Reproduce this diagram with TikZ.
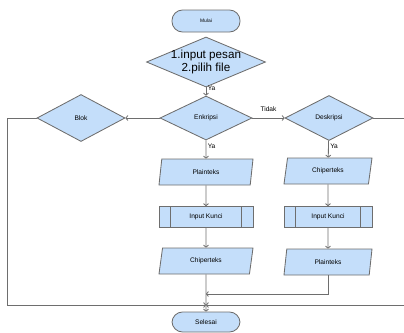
\documentclass[tikz,border=0pt]{standalone}
\usepackage{fontspec}
\setmainfont{Liberation Sans}
\usetikzlibrary{calc,shapes.geometric,arrows.meta}

\definecolor{boxblue}{RGB}{196,222,250}
\definecolor{linegray}{RGB}{110,110,110}

\tikzset{
  shp/.style={draw=linegray, fill=boxblue, line width=0.6pt, inner sep=0pt, font=\fontsize{4.7}{5}\selectfont},
  term/.style={shp, rectangle, rounded corners=7.5pt, minimum width=1.7cm, minimum height=0.55cm},
  decision/.style={shp, diamond, aspect=2},
  io/.style={shp, trapezium, trapezium left angle=60, trapezium right angle=120, trapezium stretches body, minimum height=0.65cm},
  proc/.style={shp, rectangle, minimum height=0.525cm},
  flow/.style={draw=linegray, line width=0.6pt, -{To[length=2pt,width=4pt]}},
  lbl/.style={font=\fontsize{4.7}{5}\selectfont, inner sep=1pt}
}

\begin{document}
\begin{tikzpicture}[x=0.025cm,y=-0.025cm]
\useasboundingbox (0,0) rectangle (404,332);

\node (mulai) at (206,21) [term, font=\fontsize{3.5}{4}\selectfont] {Mulai};
\node (input) at (206,62) [decision, minimum width=2.975cm, minimum height=1.25cm,
    label={[font=\fontsize{8.3}{8.6}\selectfont, align=center]center:1.input pesan\\2.pilih file}] {};
\node (enk) at (206,118) [decision, minimum width=2.3cm, minimum height=1.1cm] {Enkripsi};
\node (blok) at (81,118) [decision, minimum width=2.2cm, minimum height=1.175cm] {Blok};
\node (desk) at (329,118) [decision, minimum width=2.2cm, minimum height=1.125cm] {Deskripsi};

\node (plain1) at (206,172) [io, minimum width=2.35cm] {Plainteks};
\node (kunci1) at (206,217) [proc, minimum width=2.35cm] {Input Kunci};
\node (chiper1) at (206,261) [io, minimum width=2.35cm] {Chiperteks};
\node (chiper2) at (328,171) [io, minimum width=2.2cm] {Chiperteks};
\node (kunci2) at (328,217) [proc, minimum width=2.2cm] {Input Kunci};
\node (plain2) at (328,262) [io, minimum width=2.2cm] {Plainteks};
\node (selesai) at (206,322) [term, minimum height=0.5cm] {Selesai};

\coordinate (merge) at (206,294);
\coordinate (end) at (206,305);
\coordinate (kiri) at (7,118);
\coordinate (kanan) at (406,118);

% garis tepi kotak proses
\foreach \n in {kunci1, kunci2}
{
  \draw [linegray, line width=0.6pt] ($(\n.north west)+(12,0)$) -- ($(\n.south west)+(12,0)$);
  \draw [linegray, line width=0.6pt] ($(\n.north east)+(-12,0)$) -- ($(\n.south east)+(-12,0)$);
}

\draw [flow] (input) -- node [lbl, right, pos=0.1] {Ya} (enk);
\draw [flow] (enk) -- (blok);
\draw [flow] (enk) -- node [lbl, above=3pt] {Tidak} (desk);
\draw [flow] (enk) -- node [lbl, right, pos=0.3] {Ya} (plain1);
\draw [flow] (desk) -- node [lbl, right, pos=0.3] {Ya} (chiper2);

\foreach \a/\b in {plain1/kunci1, kunci1/chiper1, chiper2/kunci2, kunci2/plain2}
  \draw [flow] (\a) -- (\b);

\draw [flow] (chiper1) -- (selesai);
\draw [flow] (plain2) |- (merge);
\draw [flow] (blok.west) -- (kiri) |- (end);
\draw [flow] (desk.east) -- (kanan) |- (end);

\end{tikzpicture}
\end{document}
